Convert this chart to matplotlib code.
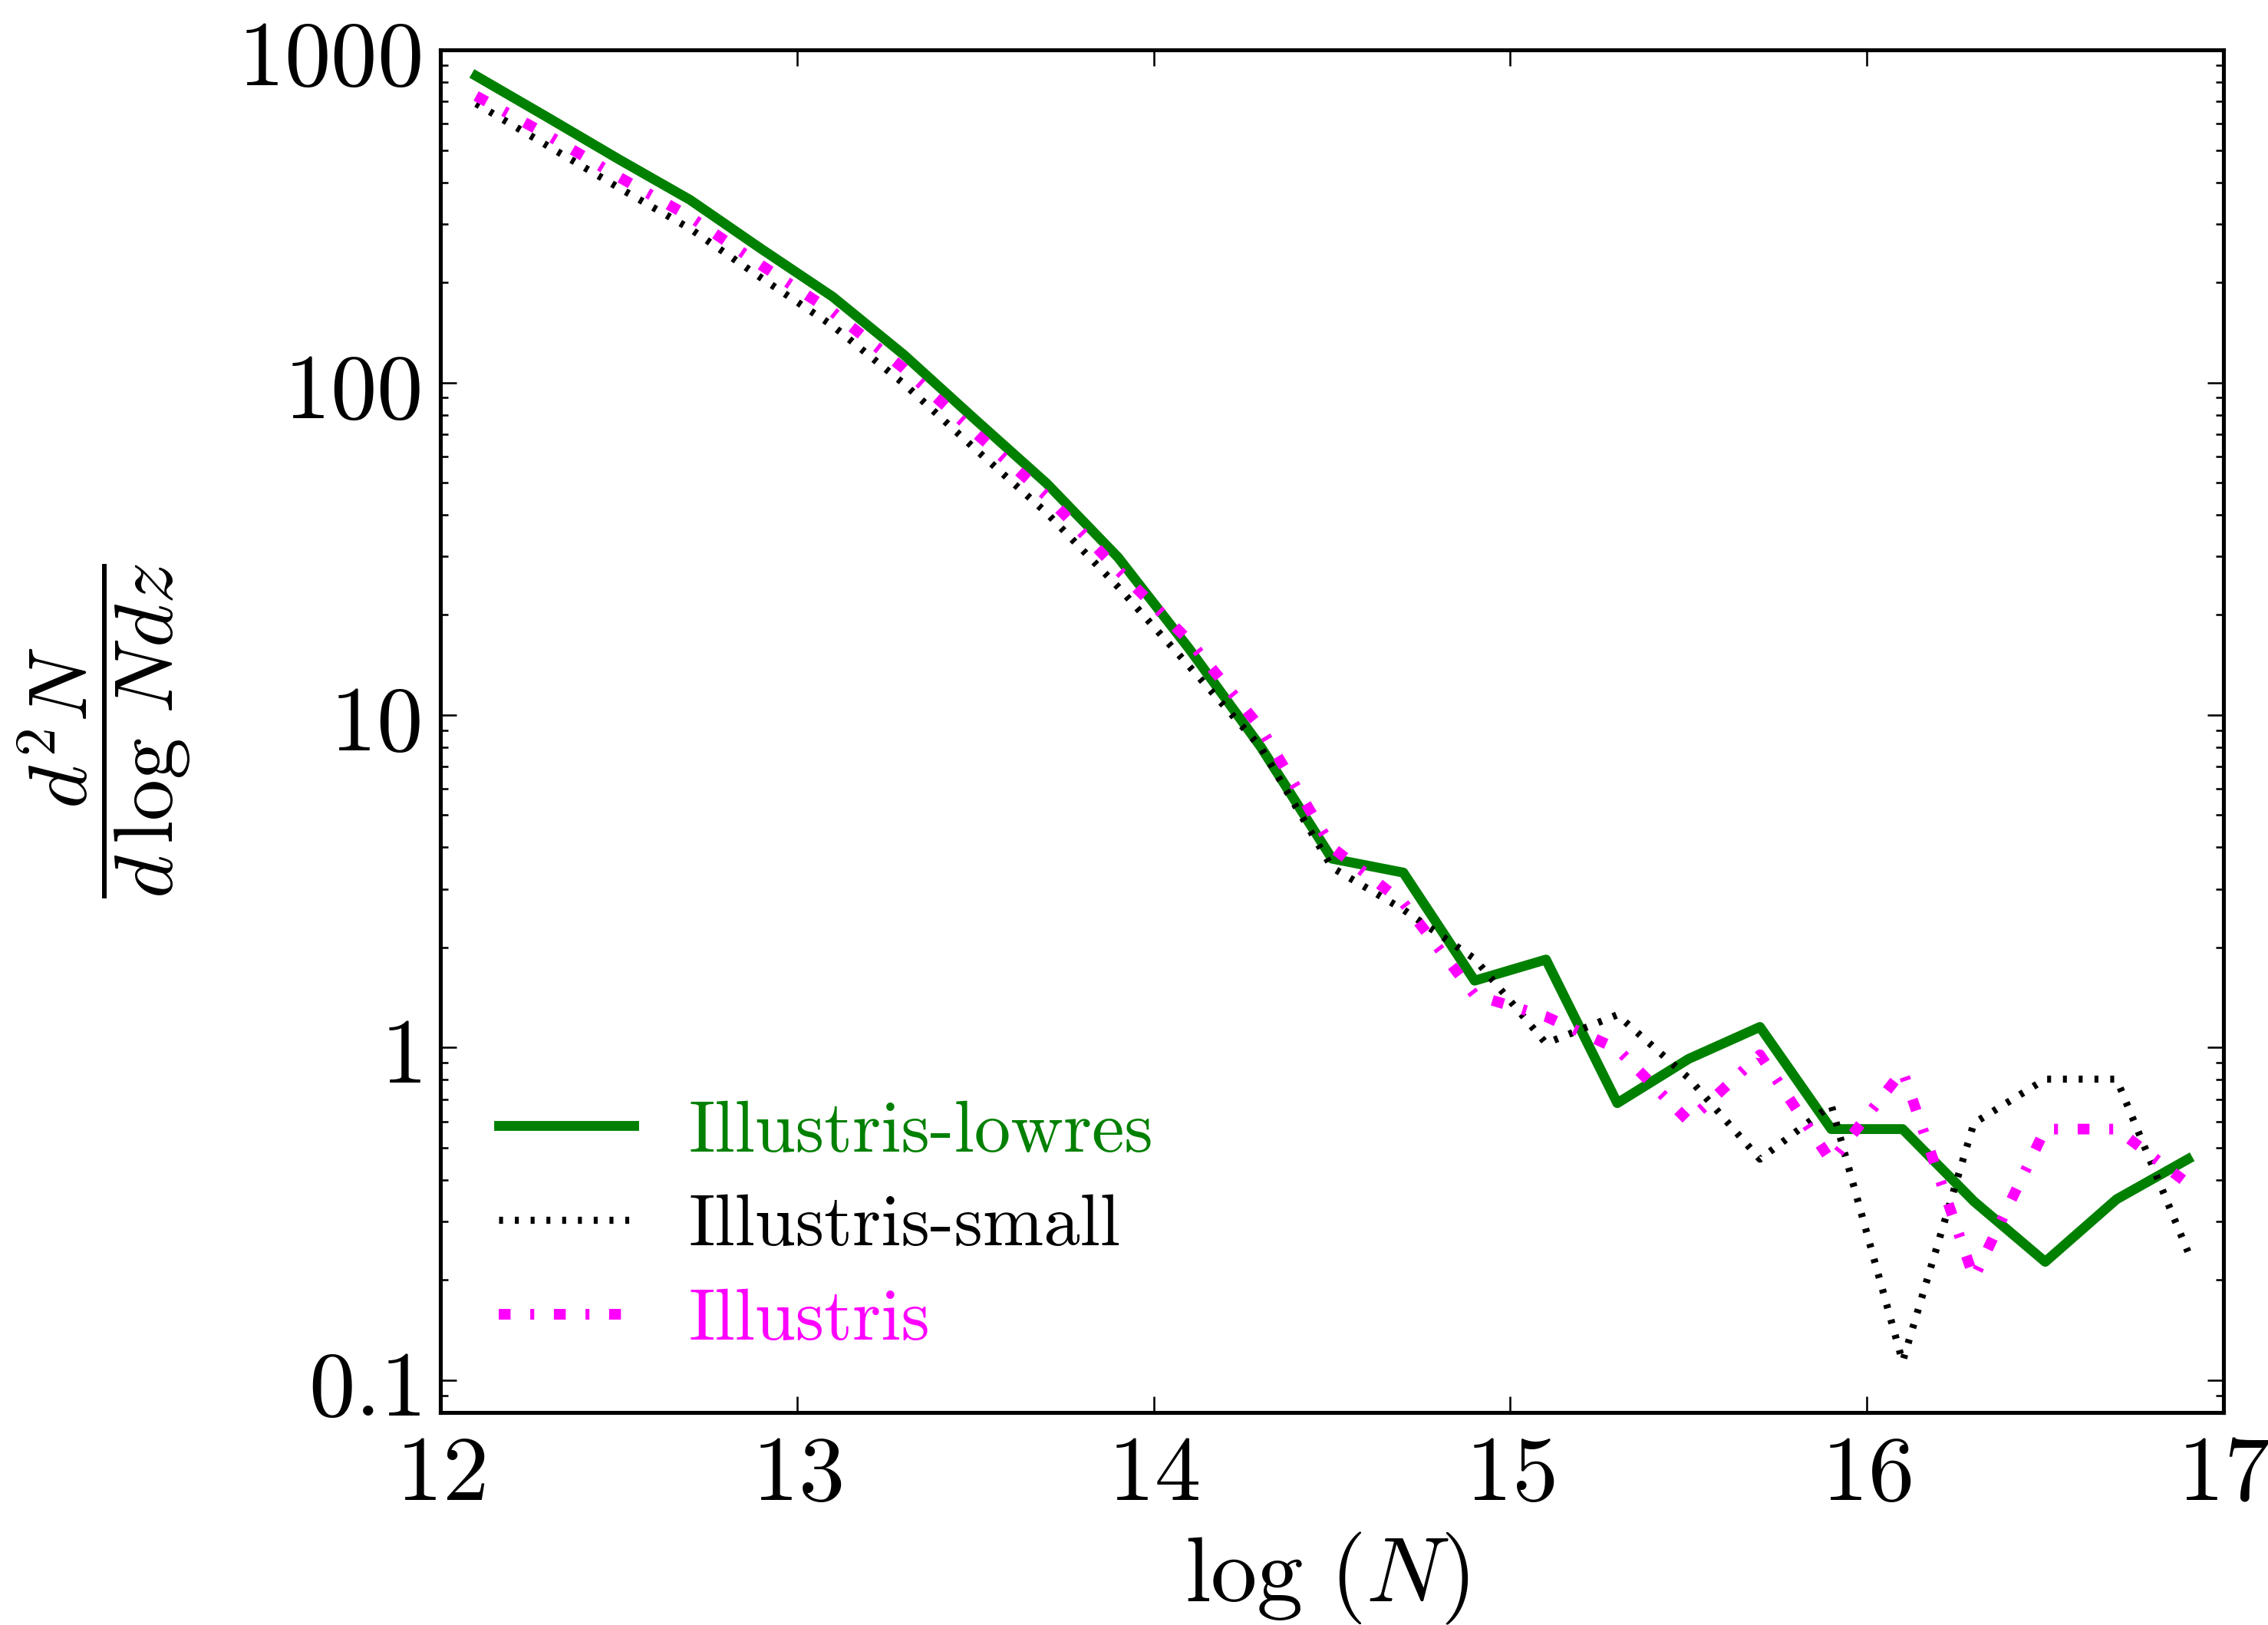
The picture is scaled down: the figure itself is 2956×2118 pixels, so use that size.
import numpy as np
import matplotlib
matplotlib.use("Agg")
import matplotlib.pyplot as plt
from matplotlib.ticker import FixedLocator, FixedFormatter, LogLocator, NullFormatter

# Column-density bins (log N) and d^2N / (dlogN dz) for the three runs
log_n = [12.1, 12.3, 12.5, 12.7, 12.9, 13.1, 13.3, 13.5, 13.7, 13.9,
         14.1, 14.3, 14.5, 14.7, 14.9, 15.1, 15.3, 15.5, 15.7, 15.9,
         16.1, 16.3, 16.5, 16.7, 16.9]

lowres = [835, 627, 469, 354, 252, 181, 121, 77.3, 49.7, 29.8,
          15.8, 8.03, 3.7, 3.36, 1.59, 1.84, 0.681, 0.925, 1.154, 0.569,
          0.569, 0.345, 0.227, 0.350, 0.462]

small = [689, 515, 385, 290, 206, 148, 99, 63, 40.5, 24.3,
         14.0, 8.0, 3.48, 2.6, 1.85, 1.03, 1.255, 0.81, 0.462, 0.672,
         0.1136, 0.593, 0.804, 0.804, 0.2435]

illustris = [727, 555, 415, 315, 225, 163, 110, 70.5, 45.5, 27.3,
             16.7, 9.15, 4.0, 2.73, 1.44, 1.24, 0.991, 0.601, 0.952, 0.455,
             0.852, 0.203, 0.569, 0.569, 0.39]

labels = ["Illustris-lowres", "Illustris-small", "Illustris"]
colors = ["green", "black", "#FF00FF"]

y_major = [0.1, 1, 10, 100, 1000]
y_major_labels = ["$0.1$", "$1$", "$10$", "$100$", "$1000$"]
x_major = [12, 13, 14, 15, 16, 17]
x_major_labels = ["$12$", "$13$", "$14$", "$15$", "$16$", "$17$"]

DPI = 370
plt.rcParams["mathtext.fontset"] = "cm"
plt.rcParams["lines.scale_dashes"] = False
plt.rcParams["lines.dash_capstyle"] = "butt"

fig = plt.figure(figsize=(2956 / DPI, 2118 / DPI), dpi=DPI)
ax = fig.add_axes([0.1942, 0.1308, 0.7862, 0.8385])

ax.plot(log_n, lowres, color=colors[0], lw=2.5, ls="-", label=labels[0])
ax.plot(log_n, small, color=colors[1], lw=1.8, ls=(0, (1, 3)), label=labels[1])
ax.plot(log_n, illustris, color=colors[2], lw=2.7, ls=(0, (3, 5, 1, 5)), label=labels[2])

ax.set_yscale("log")
ax.set_xlim(12, 17)
ax.set_ylim(0.08, 1000)

ax.yaxis.set_major_locator(FixedLocator(y_major))
ax.yaxis.set_major_formatter(FixedFormatter(y_major_labels))
ax.yaxis.set_minor_locator(LogLocator(base=10, subs=np.arange(2, 10)))
ax.yaxis.set_minor_formatter(NullFormatter())
ax.xaxis.set_major_locator(FixedLocator(x_major))
ax.xaxis.set_major_formatter(FixedFormatter(x_major_labels))

for s in ax.spines.values():
    s.set_linewidth(1.0)
ax.tick_params(which="both", direction="in", top=True, right=True, width=0.5)
ax.tick_params(which="major", length=4)
ax.tick_params(which="minor", length=2)
ax.tick_params(axis="x", which="major", labelsize=23.5, pad=4.2)
ax.tick_params(axis="y", which="major", labelsize=23.5, pad=5)

ax.set_xlabel(r"$\log\,(N)$", fontsize=23.5)
ax.xaxis.set_label_coords(0.497, -0.086)
ax.set_ylabel(r"$\dfrac{d^2N}{d\,\log\,N dz}$", fontsize=21)
ax.yaxis.set_label_coords(-0.139, 0.5)

leg = ax.legend(loc="lower left", frameon=False, handlelength=1.85,
                handletextpad=0.75, labelspacing=0.39, borderaxespad=0.4,
                prop={"family": "cmr10", "size": 18.5})
for txt, c in zip(leg.get_texts(), colors):
    txt.set_color(c)

fig.savefig("out.png", dpi=DPI)
